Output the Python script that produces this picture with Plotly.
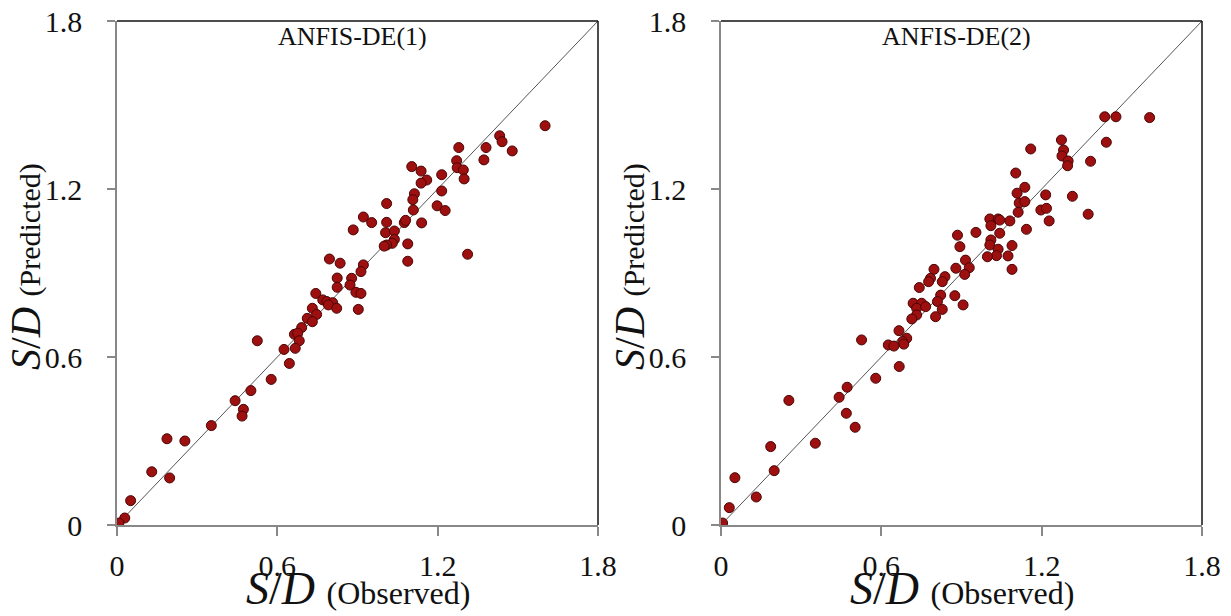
import plotly.graph_objects as go

obs1 = [1.602,1.432,1.441,1.479,1.381,1.373,1.279,1.271,1.273,1.296,1.299,1.215,1.215,1.198,1.228,1.103,1.138,1.159,1.138,1.113,1.107,1.109,1.140,1.075,1.080,1.009,1.009,1.005,1.038,1.038,1.030,1.009,1.000,1.088,1.088,0.922,0.953,0.884,1.312,0.795,0.835,0.824,0.922,0.913,0.878,0.872,0.824,0.894,0.913,0.903,0.744,0.770,0.785,0.807,0.791,0.822,0.731,0.747,0.712,0.731,0.691,0.664,0.676,0.682,0.525,0.625,0.667,0.645,0.577,0.501,0.442,0.473,0.468,0.353,0.187,0.254,0.130,0.197,0.051,0.029,0.007]
pred1 = [1.426,1.390,1.369,1.336,1.348,1.304,1.348,1.301,1.276,1.268,1.236,1.251,1.193,1.140,1.123,1.280,1.264,1.232,1.221,1.183,1.162,1.125,1.079,1.080,1.088,1.148,1.081,1.044,1.050,1.020,1.006,1.000,0.996,1.004,0.942,1.100,1.080,1.054,0.967,0.950,0.935,0.882,0.929,0.905,0.881,0.857,0.849,0.831,0.827,0.770,0.827,0.804,0.798,0.794,0.786,0.774,0.774,0.752,0.738,0.726,0.705,0.681,0.685,0.658,0.658,0.627,0.631,0.577,0.520,0.480,0.444,0.413,0.389,0.355,0.308,0.300,0.190,0.168,0.087,0.025,0.007]

obs2 = [1.436,1.478,1.604,1.442,1.274,1.282,1.276,1.299,1.297,1.383,1.159,1.103,1.137,1.108,1.116,1.137,1.112,1.081,1.143,1.215,1.315,1.197,1.218,1.228,1.374,1.006,1.037,1.010,1.043,0.954,1.043,1.010,1.006,1.089,0.885,0.894,1.037,1.031,0.997,1.074,1.089,0.915,0.929,0.912,0.879,0.797,0.784,0.777,0.838,0.828,0.742,0.822,0.875,0.906,0.810,0.828,0.803,0.719,0.751,0.732,0.766,0.732,0.714,0.666,0.695,0.680,0.684,0.626,0.647,0.667,0.526,0.579,0.472,0.442,0.469,0.502,0.254,0.353,0.186,0.199,0.052,0.132,0.031,0.006]
pred2 = [1.458,1.458,1.455,1.367,1.375,1.339,1.318,1.300,1.283,1.299,1.343,1.257,1.206,1.185,1.150,1.155,1.117,1.086,1.056,1.179,1.174,1.125,1.131,1.086,1.110,1.093,1.093,1.069,1.089,1.045,1.042,1.018,1.000,0.998,1.035,0.994,0.985,0.962,0.958,0.961,0.913,0.946,0.919,0.895,0.917,0.913,0.881,0.869,0.887,0.869,0.848,0.821,0.819,0.786,0.798,0.770,0.744,0.792,0.792,0.774,0.780,0.750,0.736,0.694,0.667,0.655,0.646,0.643,0.639,0.566,0.661,0.524,0.492,0.456,0.399,0.349,0.445,0.292,0.280,0.194,0.169,0.100,0.062,0.007]

tick_vals = [0, 0.6, 1.2, 1.8]
tick_text = ["0", "0.6", "1.2", "1.8"]
titles = ["ANFIS-DE(1)", "ANFIS-DE(2)"]
line_ends = [0, 1.8]

FONT = "Liberation Serif"
W, H = 1231, 616

fig = go.Figure()
marker = dict(size=10, color="#9e1010", line=dict(color="#4a0505", width=1))

fig.add_trace(go.Scatter(x=line_ends, y=line_ends, mode="lines",
                         line=dict(color="#555555", width=1), xaxis="x", yaxis="y", showlegend=False))
fig.add_trace(go.Scatter(x=obs1, y=pred1, mode="markers", marker=marker,
                         xaxis="x", yaxis="y", showlegend=False))
fig.add_trace(go.Scatter(x=line_ends, y=line_ends, mode="lines",
                         line=dict(color="#555555", width=1), xaxis="x2", yaxis="y2", showlegend=False))
fig.add_trace(go.Scatter(x=obs2, y=pred2, mode="markers", marker=marker,
                         xaxis="x2", yaxis="y2", showlegend=False))

ydom = [1 - 525 / H, 1 - 21 / H]
xdom1 = [117 / W, 598 / W]
xdom2 = [721 / W, 1202 / W]

def xax(dom, anchor):
    return dict(domain=dom, anchor=anchor, range=[0, 1.8], tickvals=tick_vals, ticktext=tick_text,
                showgrid=False, zeroline=False, showline=True, linecolor="#888888", linewidth=1.5,
                ticks="outside", ticklen=9, tickcolor="#888888", tickwidth=1.5, automargin=False,
                tickfont=dict(family=FONT, size=30, color="#111111"), ticklabelstandoff=4)

def yax(anchor):
    return dict(domain=ydom, anchor=anchor, range=[0, 1.8], tickvals=tick_vals, ticktext=tick_text,
                showgrid=False, zeroline=False, showline=True, linecolor="#888888", linewidth=1.5,
                ticks="outside", ticklen=8, tickcolor="#888888", tickwidth=1.5, automargin=False,
                tickfont=dict(family=FONT, size=30, color="#111111"), ticklabelstandoff=19)

shapes = []
for xa, ya in [("x", "y"), ("x2", "y2")]:
    shapes.append(dict(type="line", xref=xa + " domain", yref=ya + " domain", x0=0, x1=1, y0=1, y1=1,
                       line=dict(color="#111111", width=1.5)))
    shapes.append(dict(type="line", xref=xa + " domain", yref=ya + " domain", x0=1, x1=1, y0=0, y1=1,
                       line=dict(color="#111111", width=1.5)))

annotations = []
for i, (xa, ya) in enumerate([("x", "y"), ("x2", "y2")]):
    annotations.append(dict(text=titles[i], xref=xa + " domain", yref="paper", x=0.49, y=1 - 37 / H,
                            showarrow=False, font=dict(family=FONT, size=26, color="#111111"),
                            xanchor="center", yanchor="middle"))
    annotations.append(dict(text="<i>S</i>/<i>D</i> <span style='font-size:32px'>(Observed)</span>",
                            xref=xa + " domain", yref="paper", x=0.5, y=0, xanchor="center", yanchor="bottom",
                            showarrow=False, font=dict(family=FONT, size=46, color="#111111")))
xpos = [26 / W, 630 / W]
for i in range(2):
    annotations.append(dict(text="<i>S</i>/<i>D</i> <span style='font-size:30px'>(Predicted)</span>",
                            xref="paper", yref="paper", x=xpos[i], y=1 - 267 / H, textangle=-90,
                            xanchor="center", yanchor="middle",
                            showarrow=False, font=dict(family=FONT, size=42, color="#111111")))

fig.update_layout(
    width=W, height=H, margin=dict(l=0, r=0, t=0, b=0, autoexpand=False),
    paper_bgcolor="white", plot_bgcolor="white",
    xaxis=xax(xdom1, "y"), yaxis=yax("x"),
    xaxis2=xax(xdom2, "y2"), yaxis2=yax("x2"),
    shapes=shapes, annotations=annotations,
)

fig.write_html("out.html")
